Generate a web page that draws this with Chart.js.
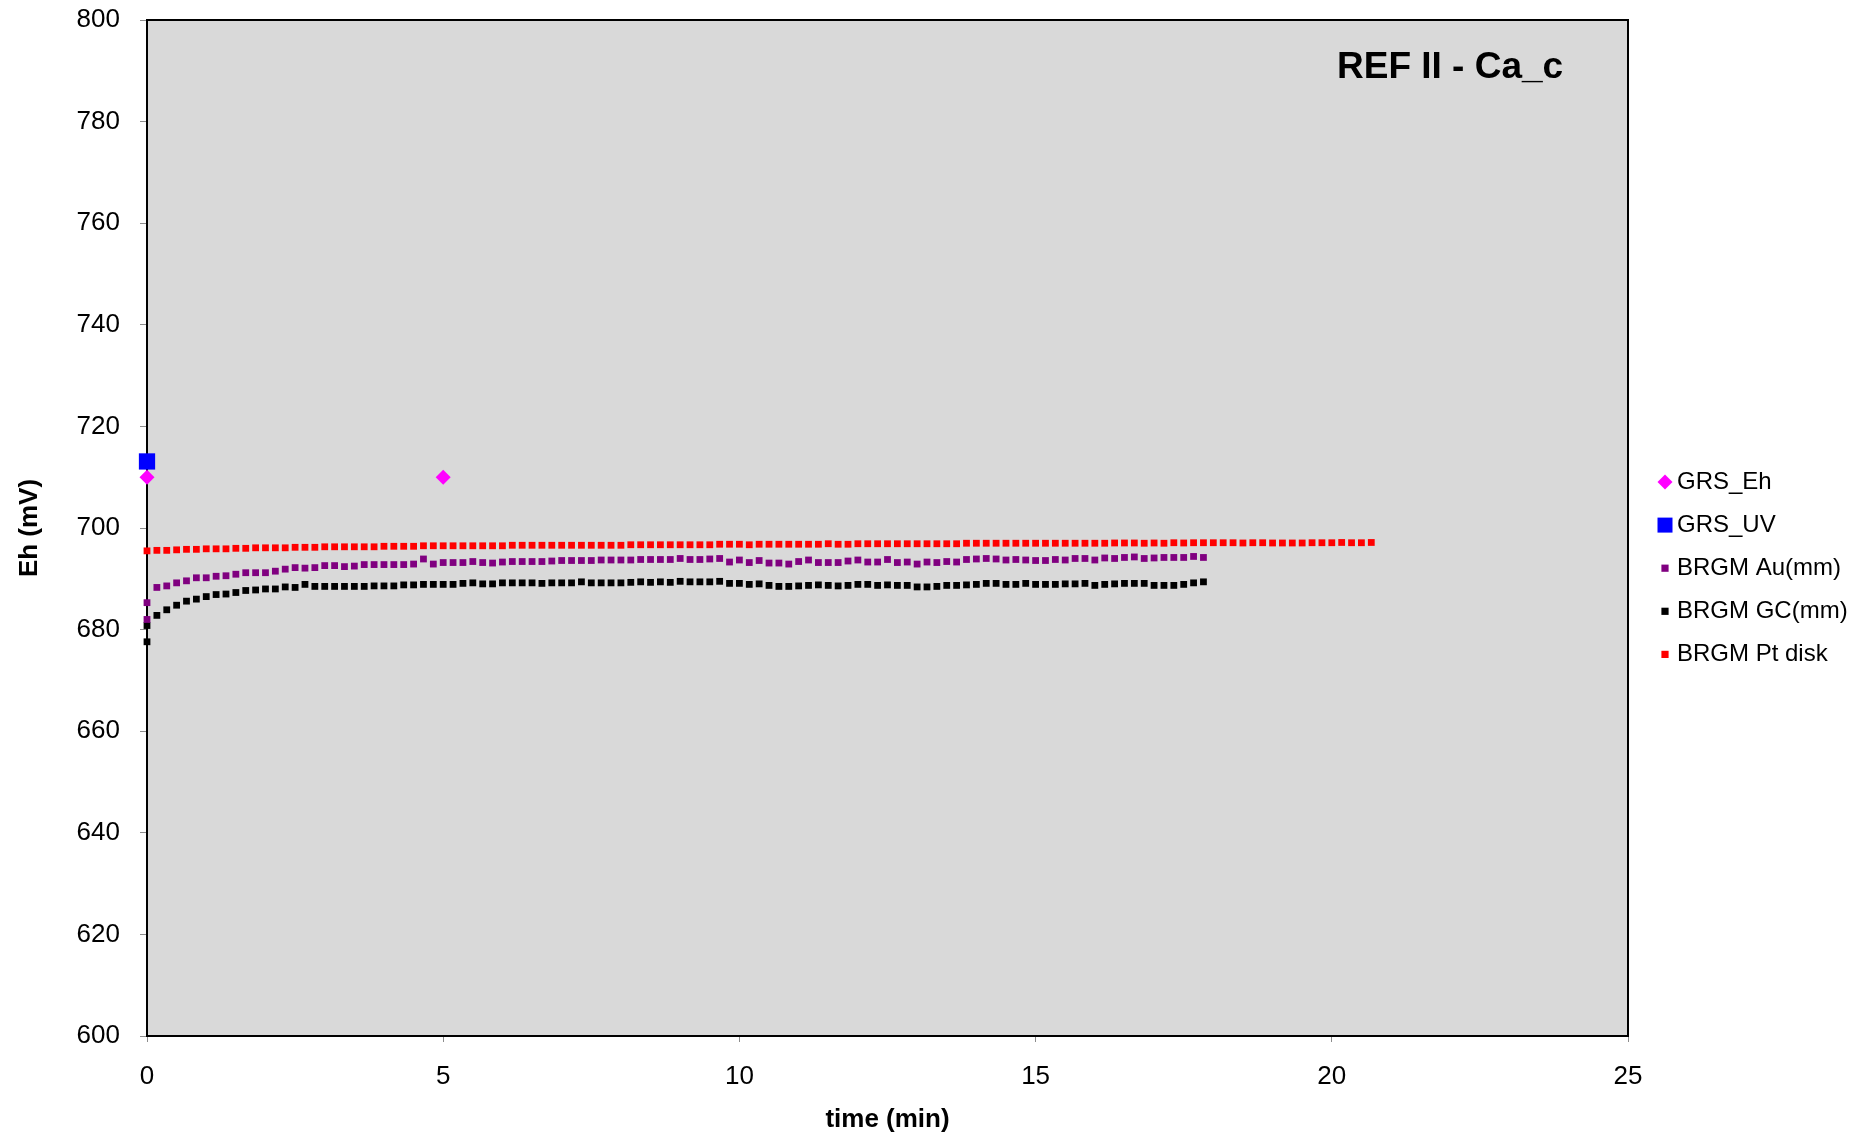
<!DOCTYPE html>
<html>
<head>
<meta charset="utf-8">
<title>REF II - Ca_c</title>
<script src="https://cdn.jsdelivr.net/npm/chart.js@4.4.0/dist/chart.umd.min.js"></script>
<style>
  html, body { margin: 0; padding: 0; background: #fff; }
</style>
</head>
<body>
<canvas id="eh-chart" width="1857" height="1138"></canvas>
<script>
// Sampling times (seconds) and Eh readings (mV)
const grsEhTime = [0, 5];
const grsEhMv = [710.0, 710.0];

const grsUvTime = [0];
const grsUvMv = [713.1];

// BRGM Au / GC electrodes: two readings at t=0, then every 10 s
const brgmTimeSec = [
  0, 0, 10, 20, 30, 40, 50, 60, 70, 80, 90, 100,
  110, 120, 130, 140, 150, 160, 170, 180, 190, 200,
  210, 220, 230, 240, 250, 260, 270, 280, 290, 300,
  310, 320, 330, 340, 350, 360, 370, 380, 390, 400,
  410, 420, 430, 440, 450, 460, 470, 480,
  490, 500, 510, 520, 530, 540, 550, 560, 570, 580,
  590, 600, 610, 620, 630, 640, 650, 660, 670, 680,
  690, 700, 710, 720, 730, 740, 750, 760, 770, 780,
  790, 800, 810, 820, 830, 840, 850, 860, 870, 880,
  890, 900, 910,
  920, 930, 940, 950, 960, 970, 980, 990, 1000, 1010, 1020, 1030, 1040, 1050, 1060, 1070
];

const auMv = [
  682.0, 685.3,
  688.3, 688.6, 689.2, 689.6, 690.2, 690.2, 690.5, 690.6, 690.9, 691.2,
  691.2, 691.2, 691.5, 691.9, 692.2, 692.1, 692.2, 692.6, 692.6, 692.4,
  692.5, 692.8, 692.8, 692.8, 692.8, 692.8, 692.9, 693.9, 692.9, 693.2,
  693.2, 693.2, 693.4, 693.2, 693.1, 693.3, 693.4, 693.4, 693.4, 693.4,
  693.5, 693.6, 693.6, 693.6, 693.6, 693.7, 693.7, 693.7,
  693.7, 693.8, 693.8, 693.8, 693.8, 694.0, 693.8, 693.8, 693.9, 694.0,
  693.3, 693.7, 693.2, 693.6, 693.1, 693.1, 692.9, 693.4, 693.7, 693.2,
  693.2, 693.2, 693.5, 693.7, 693.3, 693.3, 693.8, 693.2, 693.3, 692.9,
  693.3, 693.2, 693.4, 693.3, 693.8, 693.9, 694.0, 693.9, 693.7, 693.8,
  693.7, 693.6, 693.6,
  693.8, 693.7, 694.0, 694.0, 693.7, 694.1, 694.0, 694.2, 694.3, 694.0, 694.1, 694.2, 694.2, 694.2, 694.4, 694.2
];

const gcMv = [
  677.6, 680.8,
  682.8, 683.9, 684.8, 685.6, 686.0, 686.5, 686.9, 687.0, 687.3, 687.7,
  687.8, 688.0, 688.0, 688.4, 688.3, 688.9, 688.5, 688.5, 688.5, 688.5,
  688.5, 688.5, 688.6, 688.6, 688.6, 688.8, 688.8, 688.9, 688.9, 688.9,
  688.9, 689.1, 689.2, 689.0, 689.0, 689.2, 689.2, 689.2, 689.2, 689.1,
  689.2, 689.2, 689.2, 689.4, 689.2, 689.2, 689.2, 689.2,
  689.3, 689.4, 689.3, 689.4, 689.3, 689.5, 689.4, 689.4, 689.4, 689.5,
  689.1, 689.1, 688.9, 689.0, 688.7, 688.5, 688.5, 688.6, 688.7, 688.8,
  688.7, 688.6, 688.7, 688.9, 688.9, 688.7, 688.8, 688.7, 688.7, 688.4,
  688.4, 688.5, 688.7, 688.7, 688.8, 688.9, 689.1, 689.1, 688.9, 688.9,
  689.1, 688.9, 688.9,
  688.9, 689.0, 689.0, 689.1, 688.7, 688.9, 689.0, 689.1, 689.1, 689.1, 688.7, 688.7, 688.7, 688.9, 689.2, 689.4
];

// BRGM Pt disk: every 10 s up to ~20.7 min
const ptTimeSec = [
  0, 10, 20, 30, 40, 50, 60, 70, 80, 90,
  100, 110, 120, 130, 140, 150, 160, 170, 180, 190,
  200, 210, 220, 230, 240, 250, 260, 270, 280, 290,
  300, 310, 320, 330, 340, 350, 360, 370, 380, 390,
  400, 410, 420, 430, 440, 450, 460, 470, 480, 490,
  500, 510, 520, 530, 540, 550, 560, 570, 580, 590,
  600, 610, 620, 630, 640, 650, 660, 670, 680, 690,
  700, 710, 720, 730, 740, 750, 760, 770, 780, 790,
  800, 810, 820, 830, 840, 850, 860, 870, 880, 890,
  900, 910, 920, 930, 940, 950, 960, 970, 980, 990,
  1000, 1010, 1020, 1030, 1040, 1050, 1060, 1070, 1080, 1090,
  1100, 1110, 1120, 1130, 1140, 1150, 1160, 1170, 1180, 1190,
  1200, 1210, 1220, 1230, 1240
];

const ptMv = [
  695.5, 695.6, 695.6, 695.7, 695.8, 695.8, 695.9, 695.9, 695.9, 696.0,
  696.0, 696.1, 696.1, 696.1, 696.1, 696.2, 696.2, 696.2, 696.3, 696.3,
  696.3, 696.3, 696.3, 696.3, 696.4, 696.4, 696.4, 696.4, 696.5, 696.5,
  696.5, 696.5, 696.5, 696.5, 696.5, 696.5, 696.5, 696.6, 696.6, 696.6,
  696.6, 696.6, 696.6, 696.6, 696.6, 696.6, 696.6, 696.6, 696.6, 696.7,
  696.7, 696.7, 696.7, 696.7, 696.7, 696.7, 696.7, 696.7, 696.8, 696.8,
  696.8, 696.7, 696.8, 696.8, 696.8, 696.8, 696.8, 696.8, 696.8, 696.9,
  696.8, 696.8, 696.9, 696.9, 696.9, 696.9, 696.9, 696.9, 696.9, 696.9,
  696.9, 696.9, 696.9, 697.0, 697.0, 697.0, 697.0, 697.0, 697.0, 697.0,
  697.0, 697.0, 697.0, 697.0, 697.0, 697.0, 697.0, 697.0, 697.05, 697.05,
  697.05, 697.0, 697.05, 697.0, 697.1, 697.05, 697.1, 697.1, 697.1, 697.1,
  697.1, 697.05, 697.1, 697.1, 697.05, 697.05, 697.05, 697.05, 697.1, 697.1,
  697.1, 697.15, 697.1, 697.1, 697.15
];

const xTicks = [0, 5, 10, 15, 20, 25];
const yTicks = [600, 620, 640, 660, 680, 700, 720, 740, 760, 780, 800];

const FONT = 'Arial, "Liberation Sans", Helvetica, sans-serif';

// pair up times (converted to minutes) with readings
function toPoints(times, values, inSeconds) {
  return values.map((v, i) => ({ x: inSeconds ? times[i] / 60 : times[i], y: v }));
}

// keep the plot box exactly where the layout padding puts it
function noLabelPadding(scale) {
  scale.paddingTop = 0;
  scale.paddingBottom = 0;
  scale.paddingLeft = 0;
  scale.paddingRight = 0;
}

// grey plot area plus top/right frame
const plotFrame = {
  id: 'plotFrame',
  beforeDraw(chart) {
    const { ctx, chartArea: a } = chart;
    ctx.save();
    ctx.fillStyle = '#d9d9d9';
    ctx.fillRect(a.left, a.top, a.right - a.left, a.bottom - a.top);
    ctx.restore();
  },
  beforeDatasetsDraw(chart) {
    const { ctx, chartArea: a } = chart;
    ctx.save();
    ctx.strokeStyle = '#000';
    ctx.lineWidth = 2;
    ctx.beginPath();
    ctx.moveTo(a.left, a.top);
    ctx.lineTo(a.right, a.top);
    ctx.lineTo(a.right, a.bottom);
    ctx.stroke();
    ctx.restore();
  }
};

// chart title inside the plot and the legend on the right
const titleAndLegend = {
  id: 'titleAndLegend',
  afterDraw(chart) {
    const ctx = chart.ctx;
    ctx.save();
    ctx.fillStyle = '#000';
    ctx.font = 'bold 37px ' + FONT;
    ctx.textAlign = 'left';
    ctx.textBaseline = 'alphabetic';
    ctx.fillText('REF II - Ca_c', 1337, 78);

    const markerX = 1665;
    const textX = 1677;
    const firstY = 482;
    const rowGap = 43.1;
    ctx.font = '24px ' + FONT;
    ctx.textBaseline = 'middle';
    chart.data.datasets.forEach(function(ds, i) {
      const y = firstY + i * rowGap;
      const half = ds.legendHalf;
      ctx.fillStyle = ds.backgroundColor;
      ctx.beginPath();
      if (ds.pointStyle === 'rectRot') {
        ctx.moveTo(markerX - half, y);
        ctx.lineTo(markerX, y - half);
        ctx.lineTo(markerX + half, y);
        ctx.lineTo(markerX, y + half);
        ctx.closePath();
      } else {
        ctx.rect(markerX - half, y - half, half * 2, half * 2);
      }
      ctx.fill();
      ctx.fillStyle = '#000';
      ctx.fillText(ds.label, textX, y);
    });
    ctx.restore();
  }
};

document.addEventListener('DOMContentLoaded', function() {
  Chart.defaults.font.family = FONT;
  Chart.defaults.color = '#000';

  const smallSquare = { pointStyle: 'rect', pointRadius: 4.8, borderWidth: 0, legendHalf: 3.6 };

  new Chart(document.getElementById('eh-chart'), {
    type: 'scatter',
    data: {
      datasets: [
        {
          label: 'GRS_Eh',
          data: toPoints(grsEhTime, grsEhMv, false),
          backgroundColor: '#ff00ff',
          borderColor: '#ff00ff',
          pointStyle: 'rectRot',
          pointRadius: 7.5,
          borderWidth: 0,
          legendHalf: 7.5,
          clip: false
        },
        {
          label: 'GRS_UV',
          data: toPoints(grsUvTime, grsUvMv, false),
          backgroundColor: '#0000ff',
          borderColor: '#0000ff',
          pointStyle: 'rect',
          pointRadius: 11.5,
          borderWidth: 0,
          legendHalf: 7.5,
          clip: false
        },
        Object.assign({
          label: 'BRGM Au(mm)',
          data: toPoints(brgmTimeSec, auMv, true),
          backgroundColor: '#800080',
          borderColor: '#800080',
          clip: false
        }, smallSquare),
        Object.assign({
          label: 'BRGM GC(mm)',
          data: toPoints(brgmTimeSec, gcMv, true),
          backgroundColor: '#000000',
          borderColor: '#000000',
          clip: false
        }, smallSquare),
        Object.assign({
          label: 'BRGM Pt disk',
          data: toPoints(ptTimeSec, ptMv, true),
          backgroundColor: '#ff0000',
          borderColor: '#ff0000',
          clip: false
        }, smallSquare)
      ]
    },
    options: {
      responsive: false,
      animation: false,
      events: [],
      layout: { padding: { left: 10, right: 229, top: 20, bottom: 0 } },
      plugins: {
        legend: { display: false },
        tooltip: { enabled: false }
      },
      scales: {
        x: {
          type: 'linear',
          min: 0,
          max: 25,
          afterBuildTicks: function(scale) {
            scale.ticks = xTicks.map(v => ({ value: v }));
          },
          afterFit: function(scale) {
            scale.height = 102;
            noLabelPadding(scale);
          },
          ticks: { font: { size: 26 }, color: '#000', padding: 19, maxRotation: 0 },
          grid: { drawOnChartArea: false, color: '#8c8c8c', tickLength: 6 },
          border: { color: '#000', width: 2 },
          title: {
            display: true,
            text: 'time (min)',
            font: { size: 26, weight: 'bold' },
            color: '#000',
            padding: { top: 0, bottom: 2.5 }
          }
        },
        y: {
          type: 'linear',
          min: 600,
          max: 800,
          afterBuildTicks: function(scale) {
            scale.ticks = yTicks.map(v => ({ value: v }));
          },
          afterFit: function(scale) {
            scale.width = 137;
            noLabelPadding(scale);
          },
          ticks: { font: { size: 26 }, color: '#000', padding: 20 },
          grid: { drawOnChartArea: false, color: '#8c8c8c', tickLength: 7 },
          border: { color: '#000', width: 2 },
          title: {
            display: true,
            text: 'Eh (mV)',
            font: { size: 26, weight: 'bold' },
            color: '#000',
            padding: { top: 4, bottom: 0 }
          }
        }
      }
    },
    plugins: [plotFrame, titleAndLegend]
  });
});
</script>
</body>
</html>
